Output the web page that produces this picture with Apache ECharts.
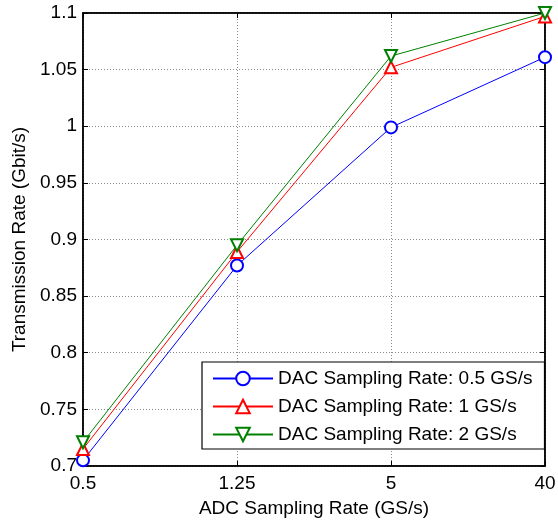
<!DOCTYPE html>
<html><head><meta charset="utf-8">
<script src="https://cdn.jsdelivr.net/npm/echarts@6/dist/echarts.min.js"></script>
<style>html,body{margin:0;padding:0;background:#fff}#c{width:558px;height:520px}</style>
</head><body><div id="c"></div>
<script>
const categories = ['0.5', '1.25', '5', '40'];
const dac05 = [0.705, 0.877, 0.999, 1.061];
const dac1 = [0.715, 0.889, 1.052, 1.097];
const dac2 = [0.721, 0.895, 1.062, 1.100];
const seriesNames = ['DAC Sampling Rate: 0.5 GS/s', 'DAC Sampling Rate: 1 GS/s', 'DAC Sampling Rate: 2 GS/s'];
const xTitle = 'ADC Sampling Rate (GS/s)';
const yTitle = 'Transmission Rate (Gbit/s)';

const FONT = 'Liberation Sans, Arial, sans-serif';
const FS = 19;
const chart = echarts.init(document.getElementById('c'), null, {renderer: 'canvas'});
const fmtY = v => String(parseFloat(v.toFixed(2)));
const grid = {left: 83, right: 13, top: 13, bottom: 54, containLabel: false, outerBoundsMode: 'none',
  show: true, borderColor: '#000', borderWidth: 1.5, backgroundColor: '#fff'};
const splitLineStyle = {show: true, lineStyle: {color: '#888', type: [1, 2], width: 1}};
function mk(name, data, color, symbol, rotate) {
  return {name, type: 'line', data, symbol, symbolSize: 12, symbolRotate: rotate,
    showAllSymbol: true,
    lineStyle: {color, width: 1}, itemStyle: {color, borderColor: color, borderWidth: 1},
    emphasis: {disabled: true}, animation: false};
}
chart.setOption({
  animation: false,
  textStyle: {fontFamily: FONT},
  grid,
  legend: {
    orient: 'vertical', left: 202, top: 362,
    padding: [7, 12, 5, 10], itemGap: 9, itemWidth: 60, itemHeight: 17,
    backgroundColor: '#fff', borderColor: '#000', borderWidth: 1.2,
    textStyle: {fontFamily: FONT, fontSize: FS, color: '#000'},
    data: seriesNames
  },
  xAxis: [{
    type: 'category', data: categories, boundaryGap: false,
    name: xTitle, nameLocation: 'middle', nameGap: 33,
    nameTextStyle: {fontFamily: FONT, fontSize: FS, color: '#000'},
    axisLine: {show: true, lineStyle: {color: '#000', width: 1.5}},
    axisTick: {show: true, inside: true, length: 5, alignWithLabel: true, lineStyle: {color: '#000'}},
    axisLabel: {fontFamily: FONT, fontSize: FS, color: '#000', margin: 8},
    splitLine: splitLineStyle
  }, {
    type: 'category', data: categories, boundaryGap: false, position: 'top',
    axisLine: {show: true, lineStyle: {color: '#000', width: 1.5}},
    axisTick: {show: true, inside: true, length: 5, lineStyle: {color: '#000'}},
    axisLabel: {show: false}, splitLine: {show: false}
  }],
  yAxis: [{
    type: 'value', min: 0.7, max: 1.1, interval: 0.05,
    name: yTitle, nameLocation: 'middle', nameGap: 51, nameRotate: 90,
    nameTextStyle: {fontFamily: FONT, fontSize: FS, color: '#000'},
    axisLine: {show: true, lineStyle: {color: '#000', width: 1.5}},
    axisTick: {show: true, inside: true, length: 5, lineStyle: {color: '#000'}},
    axisLabel: {fontFamily: FONT, fontSize: FS, color: '#000', margin: 6, formatter: fmtY},
    splitLine: splitLineStyle
  }, {
    type: 'value', min: 0.7, max: 1.1, interval: 0.05, position: 'right',
    axisLine: {show: true, lineStyle: {color: '#000', width: 1.5}},
    axisTick: {show: true, inside: true, length: 5, lineStyle: {color: '#000'}},
    axisLabel: {show: false}, splitLine: {show: false}
  }],
  series: [
    mk(seriesNames[0], dac05, '#0000ff', 'emptyCircle', 0),
    mk(seriesNames[1], dac1, '#ff0000', 'emptyTriangle', 0),
    mk(seriesNames[2], dac2, '#008000', 'emptyTriangle', 180)
  ]
});
</script></body></html>
